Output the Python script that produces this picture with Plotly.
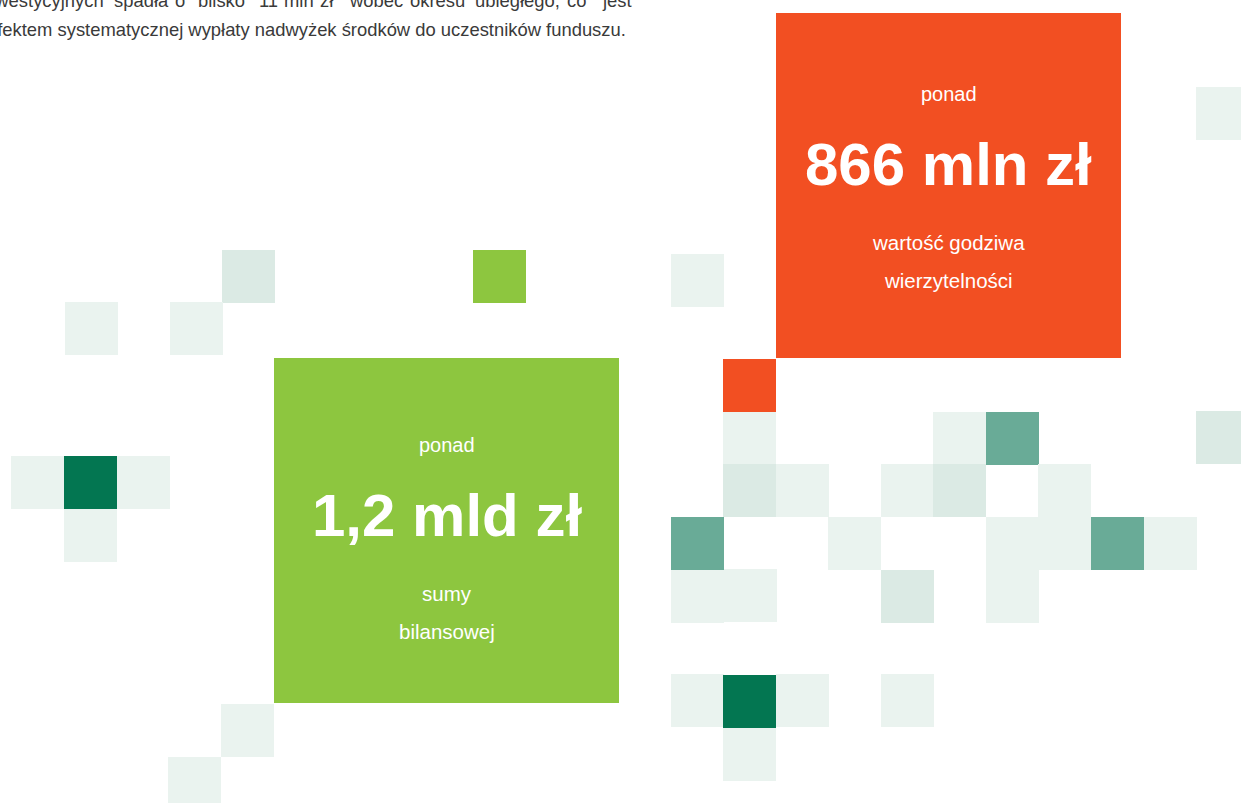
import plotly.graph_objects as go

# ---------------- data ----------------
# square tiles: left edge, top edge (px in 1241x803 canvas), tone
tile_x = [222, 65, 170, 11, 64, 117, 64, 221, 168, 473, 671,
          723, 1196, 1196, 723, 933, 986, 723, 776, 881, 933, 1038,
          671, 828, 986, 1039, 1091, 1144, 671, 724, 881, 986,
          671, 723, 776, 881, 723]
tile_y = [250, 302, 302, 456, 456, 456, 509, 704, 757, 250, 254,
          359, 87, 411, 412, 412, 412, 464, 464, 464, 464, 464,
          517, 517, 517, 517, 517, 517, 570, 569, 570, 570,
          674, 675, 674, 674, 728]
tile_tone = ["mid", "light", "light", "light", "dark", "light", "light", "light", "light", "lime", "light",
             "orange", "light", "mid", "light", "light", "teal", "mid", "light", "light", "mid", "light",
             "teal", "light", "light", "light", "teal", "light", "light", "light", "mid", "light",
             "light", "dark", "light", "light", "light"]

# big highlight boxes
box_x = [274, 776]
box_y = [358, 13]
box_tone = ["lime", "orange"]
box_top = ["ponad", "ponad"]
box_value = ["1,2 mld zł", "866 mln zł"]
box_caption = [["sumy", "bilansowej"], ["wartość godziwa", "wierzytelności"]]

intro_line1 = ["inwestycyjnych", "spadła", "o", "blisko", "11", "mln", "zł",
               "wobec", "okresu", "ubiegłego,", "co", "jest"]
intro_line2 = "efektem systematycznej wypłaty nadwyżek środków do uczestników funduszu."

# ---------------- style ----------------
TONES = {"light": "#EAF3EF", "mid": "#DBEAE4", "teal": "#69AB97",
         "dark": "#037651", "orange": "#F24F22", "lime": "#8DC63F"}
TILE = 53
BOX = 345
BOX_TEXT_SHIFT = [6, 0]
FONT = "Liberation Sans, Arial, sans-serif"
W, H = 1241, 803

fig = go.Figure()
fig.add_trace(go.Scatter(x=[0, W], y=[0, H], mode="markers",
                         marker=dict(opacity=0), hoverinfo="skip", showlegend=False))

for x, y, t in zip(tile_x, tile_y, tile_tone):
    fig.add_shape(type="rect", xref="x", yref="y", x0=x, x1=x + TILE, y0=y, y1=y + TILE,
                  fillcolor=TONES[t], line=dict(width=0), layer="below")

for x, y, t in zip(box_x, box_y, box_tone):
    fig.add_shape(type="rect", xref="x", yref="y", x0=x, x1=x + BOX, y0=y, y1=y + BOX,
                  fillcolor=TONES[t], line=dict(width=0), layer="below")

ann = []
for x, y, top, val, cap, sh in zip(box_x, box_y, box_top, box_value, box_caption, BOX_TEXT_SHIFT):
    cx = x + BOX / 2
    ann.append(dict(x=cx, y=y + 81 + sh, text=top, showarrow=False, xanchor="center", yanchor="middle",
                    font=dict(family=FONT, size=20, color="white")))
    ann.append(dict(x=cx, y=y + 151 + sh, text=val, showarrow=False, xanchor="center", yanchor="middle",
                    font=dict(family=FONT, size=60, color="white", weight=700)))
    for i, line in enumerate(cap):
        ann.append(dict(x=cx, y=y + 229 + sh + 38 * i, text=line, showarrow=False, xanchor="center",
                        yanchor="middle", font=dict(family=FONT, size=20.5, color="white")))

word_x = [106, 112, 173, 196, 257, 282, 318, 347, 408, 473, 565, 600]
for i, (w, wx) in enumerate(zip(intro_line1, word_x)):
    ann.append(dict(x=wx, y=13, text=w, showarrow=False,
                    xanchor="right" if i == 0 else "left", yanchor="bottom",
                    font=dict(family=FONT, size=18.4, color="#3a3a3a")))
ann.append(dict(x=628, y=29, text=intro_line2, showarrow=False, xanchor="right", yanchor="middle",
                font=dict(family=FONT, size=18.4, color="#3a3a3a")))

fig.update_layout(
    width=W, height=H, margin=dict(l=0, r=0, t=0, b=0),
    paper_bgcolor="white", plot_bgcolor="white",
    xaxis=dict(range=[0, W], visible=False, fixedrange=True),
    yaxis=dict(range=[H, 0], visible=False, fixedrange=True),
    annotations=ann, showlegend=False,
)
fig.write_html("out.html", config={"displayModeBar": False},
               post_script="document.body.style.margin='0';")
